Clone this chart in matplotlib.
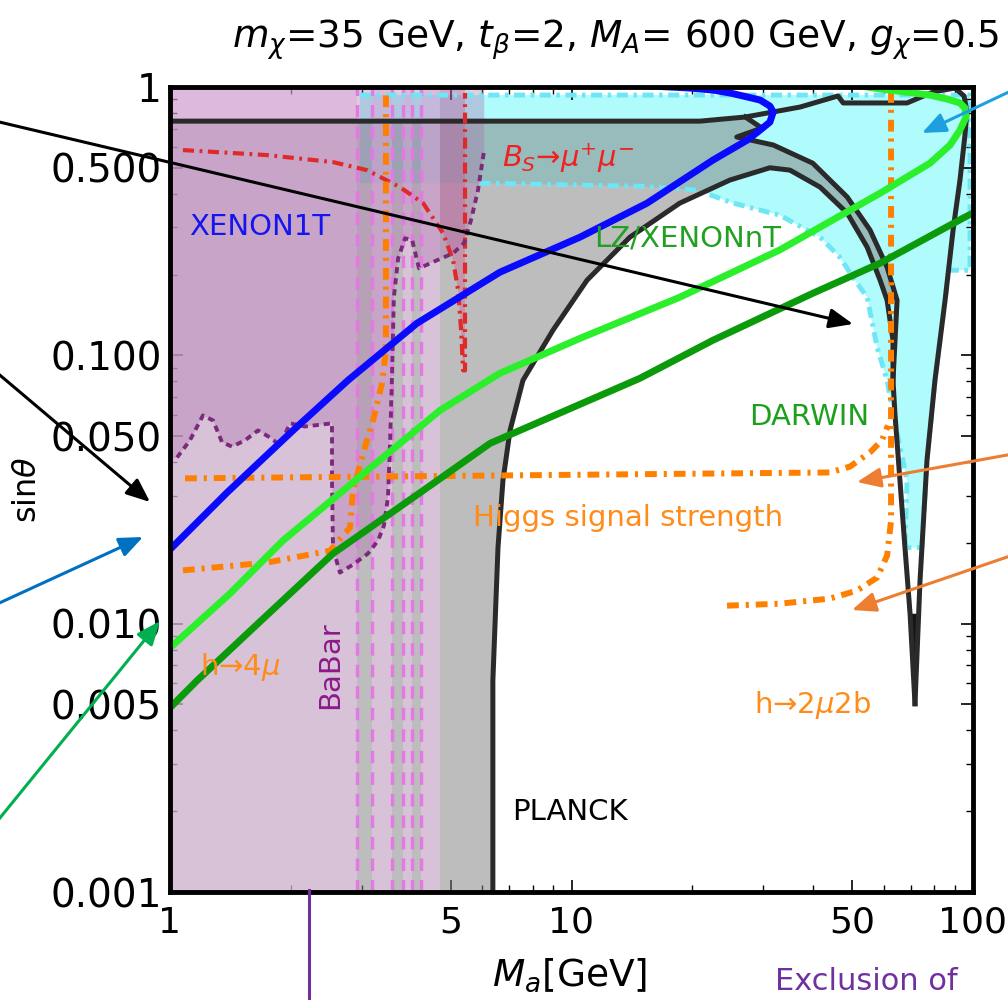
import numpy as np
import matplotlib
matplotlib.use("Agg")
import matplotlib.pyplot as plt
from matplotlib.ticker import LogLocator, NullFormatter
from matplotlib.patches import FancyArrowPatch
from matplotlib.lines import Line2D

plt.rcParams["font.family"] = ["DejaVu Sans"]
plt.rcParams["mathtext.fontset"] = "dejavusans"
plt.rcParams["lines.scale_dashes"] = False

# ---------------------------------------------------------
# limit curves: M_a [GeV] vs sin(theta)
# ---------------------------------------------------------
x1t_m = [1.0, 1.387, 2.025, 2.775, 4.12, 6.63, 10.5, 15.42, 22.5, 27.4, 29.5,
         31.2, 31.8, 31.2, 29.5, 27.4, 24.8, 22.5, 19.7, 17.6, 14.0]
x1t_s = [0.0189, 0.0308, 0.0525, 0.0807, 0.1316, 0.204, 0.2757, 0.369, 0.534,
         0.634, 0.691, 0.740, 0.807, 0.849, 0.894, 0.918, 0.950, 0.974, 0.991, 1.0, 1.017]

lz_m = [1.0, 1.41, 1.911, 3.39, 4.70, 6.63, 10.5, 18.6, 33.0, 58.7, 78.1, 87.7, 92.8, 96.1,
        95.5, 92.8, 86.1, 78.1, 70.9, 61.1, 52.3]
lz_s = [0.00813, 0.01294, 0.0204, 0.0416, 0.0623, 0.0857, 0.1157, 0.1646, 0.247, 0.402, 0.520,
        0.608, 0.691, 0.773, 0.835, 0.872, 0.902, 0.933, 0.950, 0.975, 1.009]

darwin_m = [1.0, 1.167, 1.675, 2.547, 4.20, 6.27, 14.8, 22.5, 39.9, 58.7, 94.4, 100.0]
darwin_s = [0.00486, 0.00613, 0.01017, 0.01825, 0.0308, 0.0470, 0.0821, 0.1138, 0.1703,
            0.2205, 0.3245, 0.339]

higgs_m = [1.09, 44.0, 49.4, 55.4, 59.3, 61.4]
higgs_s = [0.0348, 0.0366, 0.0385, 0.0435, 0.0482, 0.0548]

h4mu_m = [1.077, 1.744, 2.503, 2.807, 2.856, 3.025, 3.204, 3.373, 3.45, 3.45]
h4mu_s = [0.0158, 0.01689, 0.0187, 0.0228, 0.0314, 0.0431, 0.0572, 0.0786, 0.1044, 1.0]

h2mu2b_m = [24.4, 33.0, 44.0, 51.4, 57.7, 61.1, 62.5, 62.5]
h2mu2b_s = [0.01167, 0.01187, 0.0124, 0.01328, 0.01485, 0.01794, 0.0242, 1.0]

bs_m = [1.077, 1.744, 2.547, 3.095, 3.74, 4.27, 4.79, 5.07, 5.22, 5.31, 5.37, 5.43, 5.43]
bs_s = [0.582, 0.5575, 0.525, 0.490, 0.4235, 0.369, 0.285, 0.226, 0.1748, 0.124,
        0.0879, 0.0879, 0.95]

babar_m = [1.0, 1.041, 1.121, 1.208, 1.280, 1.348, 1.427, 1.537, 1.656, 1.775,
           1.879, 1.99, 2.169, 2.532, 2.532, 2.547, 2.65, 2.856, 3.112, 3.297,
           3.41, 3.49, 3.53, 3.57, 3.61, 3.70, 3.85, 4.01, 4.17, 4.62,
           5.07, 5.40, 5.62, 5.85, 6.06]
babar_s = [0.0406, 0.0416, 0.0482, 0.0597, 0.0572, 0.0474, 0.0457, 0.0482, 0.0525, 0.0494,
           0.0462, 0.0558, 0.0543, 0.0558, 0.0342, 0.01905, 0.0155, 0.0166, 0.01825, 0.0204,
           0.0232, 0.0295, 0.0454, 0.0807, 0.1646, 0.230, 0.273, 0.269, 0.211, 0.226,
           0.240, 0.262, 0.319, 0.413, 0.582]

# BaBar veto windows (pink band edges)
pink_edges = [1.0, 2.92, 3.19, 3.57, 3.80, 4.01, 4.22, 4.70]

# PLANCK relic-density contour pieces
planck_upper_m = [1.0, 20.9, 27.1, 37.1, 46.1, 47.5, 68.5, 79.5, 90.2, 95.0, 96.6, 95.5,
                  92.8, 89.2, 85.2, 80.4, 76.8, 73.8, 71.7]
planck_upper_s = [0.746, 0.746, 0.773, 0.842, 0.926, 0.872, 0.872, 0.958, 0.991, 0.926,
                  0.807, 0.662, 0.450, 0.293, 0.1604, 0.0807, 0.0406, 0.01447, 0.00503]
planck_kink_m = [27.1, 29.8, 25.8, 31.8, 39.9, 48.6, 55.4, 61.1, 64.7, 63.2]
planck_kink_s = [0.773, 0.703, 0.651, 0.608, 0.520, 0.389, 0.293, 0.213, 0.1604, 0.0807]
planck_lower_m = [6.37, 6.37, 6.56, 6.75, 7.03, 7.57, 8.99, 10.93, 13.98, 18.6, 24.8, 31.2,
                  35.0, 41.6, 48.6, 54.5, 58.7, 61.1, 63.2, 63.2, 63.9, 67.7, 69.7, 71.7]
planck_lower_s = [0.001, 0.00613, 0.0192, 0.0342, 0.0525, 0.0807, 0.124, 0.1905, 0.2757,
                  0.369, 0.450, 0.5, 0.490, 0.4235, 0.339, 0.253, 0.1905, 0.1604, 0.1138,
                  0.0807, 0.0608, 0.0192, 0.01089, 0.00503]
vtip_m = [69.7, 71.7, 73.2]
vtip_s = [0.01089, 0.00503, 0.01089]

# region allowed by the relic constraint (cyan), traced from its top-left corner
cyan_m = [2.97, 98.3, 98.3, 87.1, 85.2, 80.4, 76.8, 74.6, 67.7, 68.5, 63.2, 61.1, 57.7,
          54.5, 50.8, 46.6, 41.6, 33.0, 25.3, 20.5, 14.8, 5.92, 2.97]
cyan_s = [0.933, 0.933, 0.2075, 0.2075, 0.1604, 0.0807, 0.0406, 0.0192, 0.0192, 0.0342,
          0.0608, 0.0807, 0.107, 0.1646, 0.1905, 0.232, 0.2757, 0.333, 0.369, 0.413,
          0.427, 0.438, 0.438]

xticks = [1, 5, 10, 50, 100]
xtick_labels = ["1", "5", "10", "50", "100"]
yticks = [0.001, 0.005, 0.01, 0.05, 0.1, 0.5, 1]
ytick_labels = ["0.001", "0.005", "0.010", "0.050", "0.100", "0.500", "1"]

# ---------------------------------------------------------
# figure
# ---------------------------------------------------------
W, H = 1008, 1000
fig = plt.figure(figsize=(W / 100, H / 100), dpi=100)
ax = fig.add_axes([170 / W, 108 / H, 803 / W, 805 / H])
ax.set_xscale("log")
ax.set_yscale("log")
ax.set_xlim(1, 100)
ax.set_ylim(0.001, 1)

# shaded regions
ax.fill(cyan_m, cyan_s, color="#b0fbfb", lw=0, zorder=1)

gray_m = planck_upper_m[:3] + planck_kink_m[1:9] + planck_lower_m[:18][::-1] + [1.0]
gray_s = planck_upper_s[:3] + planck_kink_s[1:9] + planck_lower_s[:18][::-1] + [0.001]
ax.fill(gray_m, gray_s, color=(0.514, 0.514, 0.514), alpha=0.525, lw=0, zorder=2)

# B_s region right of the pink band
edge = pink_edges[-1]
s_edge = 10 ** np.interp(np.log10(edge), np.log10(bs_m[:11]), np.log10(bs_s[:11]))
red_m = [edge] + [m for m in bs_m if m > edge] + [bs_m[-1], edge]
red_s = [s_edge] + [s for m, s in zip(bs_m, bs_s) if m > edge] + [1.0, 1.0]
ax.fill(red_m, red_s, color=(210 / 255, 60 / 255, 130 / 255), alpha=0.3, lw=0, zorder=3)

for a, b in zip(pink_edges[::2], pink_edges[1::2]):
    ax.axvspan(a, b, color=(244 / 255, 200 / 255, 244 / 255), alpha=0.5, lw=0, zorder=4)

ax.fill(babar_m + [babar_m[-1], 1.0], babar_s + [1.0, 1.0],
        color=(171 / 255, 109 / 255, 171 / 255), alpha=0.35, lw=0, zorder=5)

# boundaries
for m in pink_edges[1:-1]:
    ax.axvline(m, color="#e27ae2", lw=2.5, ls=(0, (9, 6.5)), zorder=6)
ax.plot(cyan_m[:-1], cyan_s[:-1], color="#6ee6f5", lw=3.5, ls=(0, (8, 4, 2.5, 4)), zorder=6)

ax.fill(vtip_m, vtip_s, color="#151515", lw=0, zorder=7)
for m, s in [(planck_upper_m, planck_upper_s), (planck_kink_m, planck_kink_s),
             (planck_lower_m, planck_lower_s)]:
    ax.plot(m, s, color="#2a2a2a", lw=3.6, solid_joinstyle="round", zorder=7)

ax.plot(bs_m, bs_s, color="#e02a2a", lw=3, ls=(0, (8, 4, 2, 4)), zorder=8)
ax.plot(babar_m[1:], babar_s[1:], color="#7b2a7b", lw=2.8, ls=(0, (4.5, 3.5)), zorder=8)
orange_ls = (0, (8.5, 5, 2.2, 5))
ax.plot(higgs_m, higgs_s, color="#ff8000", lw=4.3, ls=orange_ls, zorder=8)
ax.plot(h4mu_m, h4mu_s, color="#ff8000", lw=4.3, ls=orange_ls, zorder=8)
ax.plot(h2mu2b_m, h2mu2b_s, color="#ff8000", lw=4.3, ls=orange_ls, zorder=8)

ax.plot(darwin_m, darwin_s, color="#0a9a0a", lw=5, solid_joinstyle="round", zorder=9)
ax.plot(lz_m, lz_s, color="#2bef2b", lw=5, solid_joinstyle="round", zorder=9)
ax.plot(x1t_m, x1t_s, color="#0a0aff", lw=5, solid_joinstyle="round", zorder=9)

# curve labels
labels = [
    ("XENON1T", 0.112, 0.826, "#1515ee", 0),
    ("LZ/XENONnT", 0.645, 0.812, "#22a022", 0),
    ("DARWIN", 0.796, 0.590, "#1aa01a", 0),
    ("Higgs signal strength", 0.570, 0.465, "#ff8c1a", 0),
    ("h→4$\\mu$", 0.087, 0.279, "#ff8c1a", 0),
    ("h→2$\\mu$2b", 0.800, 0.232, "#ff8c1a", 0),
    ("BaBar", 0.199, 0.282, "#8b1a8b", 90),
    ("$B_S$→$\\mu^{+}\\mu^{-}$", 0.496, 0.912, "#ee2222", 0),
    ("PLANCK", 0.498, 0.099, "black", 0),
]
for txt, x, y, c, rot in labels:
    ax.text(x, y, txt, color=c, fontsize=21, rotation=rot, ha="center", va="center",
            transform=ax.transAxes, zorder=10)

# axes styling
ax.set_xticks(xticks)
ax.set_xticklabels(xtick_labels)
ax.set_yticks(yticks)
ax.set_yticklabels(ytick_labels)
ax.xaxis.set_minor_locator(LogLocator(base=10, subs=np.arange(2, 10)))
ax.yaxis.set_minor_locator(LogLocator(base=10, subs=np.arange(2, 10)))
ax.xaxis.set_minor_formatter(NullFormatter())
ax.yaxis.set_minor_formatter(NullFormatter())
ax.tick_params(which="both", direction="in", top=True, right=True)
ax.tick_params(which="major", length=9, width=1.2)
ax.tick_params(which="minor", length=5, width=1.0)
ax.tick_params(axis="x", pad=10, labelsize=26)
ax.tick_params(axis="y", pad=6, labelsize=28)
for sp in ax.spines.values():
    sp.set_linewidth(3.5)
    sp.set_zorder(11)

fig.text(616 / W, 1 - 40 / H, r"$m_\chi$=35 GeV, $t_\beta$=2, $M_A$= 600 GeV, $g_\chi$=0.5",
         fontsize=27, ha="center", va="center")
fig.text(570 / W, 1 - 975 / H, r"$M_a$[GeV]", fontsize=27, ha="center", va="center")
fig.text(28 / W, 1 - 490 / H, r"sin$\theta$", fontsize=23, rotation=90,
         ha="center", va="center")

# slide annotations around the plot
arrows = [
    ((-5, 121), (853, 324), "black"),
    ((-5, 371), (150, 502), "black"),
    ((-5, 605), (143, 537), "#0070c0"),
    ((-5, 824), (160, 621), "#00b050"),
    ((1013, 90), (922, 133), "#1ea0e0"),
    ((1013, 454), (857, 482), "#ed7d31"),
    ((1013, 555), (852, 610), "#ed7d31"),
]
for (x0, y0), (x1, y1), c in arrows:
    fig.add_artist(FancyArrowPatch((x0 / W, 1 - y0 / H), (x1 / W, 1 - y1 / H),
                                   transform=fig.transFigure,
                                   arrowstyle="-|>,head_length=0.6,head_width=0.25",
                                   mutation_scale=24, color=c, lw=2.2,
                                   shrinkA=0, shrinkB=0, zorder=20))
fig.add_artist(Line2D([309 / W, 309 / W], [1 - 890 / H, 0], transform=fig.transFigure,
                      color="#7030a0", lw=2.2, zorder=20))
fig.text(775 / W, 1 - 996 / H, "Exclusion of", color="#7030a0", fontsize=22,
         ha="left", va="bottom")

fig.savefig("out.png", dpi=100)
